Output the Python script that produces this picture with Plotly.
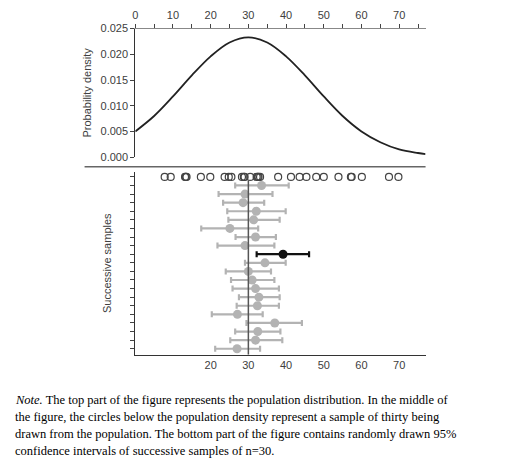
import plotly.graph_objects as go

# population density curve
dens_x = [0, 5, 10, 15, 20, 25, 30, 35, 40, 45, 50, 55, 60, 65, 70, 75, 77]
dens_y = [0.0050, 0.0080, 0.0118, 0.0159, 0.0196, 0.0223, 0.0233, 0.0223, 0.0196,
          0.0159, 0.0118, 0.0080, 0.0050, 0.0029, 0.0015, 0.0008, 0.0006]

# the sample of thirty (open circles)
sample = [7.8, 9.4, 13.2, 13.4, 13.6, 17.4, 19.9, 23.7, 24.8, 25.5, 28.3, 28.8, 29.0,
          30.5, 32.2, 32.5, 32.7, 33.1, 37.9, 41.3, 43.6, 45.4, 48.0, 50.0, 53.9,
          57.2, 57.4, 60.1, 67.3, 69.8]

# successive samples: mean and 95% CI
means = [33.5, 29.1, 28.6, 32.1, 31.4, 25.1, 31.9, 29.1, 39.2, 34.4,
         30.0, 31.0, 31.9, 32.8, 32.4, 27.1, 37.0, 32.5, 31.9, 27.0]
lows = [26.5, 22.1, 23.3, 24.4, 24.7, 17.5, 26.6, 21.8, 32.2, 29.1,
        24.0, 25.4, 25.8, 27.5, 26.9, 20.3, 29.5, 26.5, 25.2, 21.2]
highs = [40.7, 36.4, 34.2, 39.9, 38.3, 32.6, 37.3, 36.9, 46.1, 39.9,
         36.0, 36.9, 38.1, 38.3, 38.1, 33.8, 44.2, 38.5, 39.0, 33.1]
miss_index = 8  # the interval that misses 30

rows = list(range(1, len(means) + 1))
grey = '#b3b3b3'
ink = '#333333'
font = dict(family='Liberation Sans, Arial', size=11, color='#404040')

# page has an 8px body margin, so work in a 512x454 box
W, H, OFF = 512, 454, 8
def px(x):
    return (x - OFF) / W
def py(y):
    return 1 - (y - OFF) / H

fig = go.Figure()

fig.add_trace(go.Scatter(x=dens_x, y=dens_y, mode='lines', line=dict(color='#222222', width=1.8, shape='spline'),
                         xaxis='x', yaxis='y', showlegend=False))

fig.add_trace(go.Scatter(x=sample, y=[0] * len(sample), mode='markers',
                         marker=dict(symbol='circle-open', size=7, color='#444444', line=dict(width=1.2)),
                         xaxis='x2', yaxis='y2', showlegend=False))

for i, r in enumerate(rows):
    c = '#111111' if i == miss_index else grey
    fig.add_trace(go.Scatter(x=[means[i]], y=[r], mode='markers',
                             marker=dict(size=9, color=c),
                             error_x=dict(type='data', symmetric=False,
                                          array=[highs[i] - means[i]], arrayminus=[means[i] - lows[i]],
                                          color=c, thickness=2.2, width=3),
                             xaxis='x2', yaxis='y2', showlegend=False))

fig.update_layout(
    width=W, height=H, margin=dict(l=0, r=0, t=0, b=0),
    plot_bgcolor='white', paper_bgcolor='white', font=font,
    xaxis=dict(domain=[px(133), px(425)], range=[0, 77], side='top', anchor='y',
               tickvals=[0, 10, 20, 30, 40, 50, 60, 70], ticks='outside', ticklen=4,
               minor=dict(tickvals=[5, 15, 25, 35, 45, 55, 65, 75], ticks='outside', ticklen=4),
               showline=True, linecolor='#888888', mirror=False, showgrid=False, zeroline=False),
    yaxis=dict(domain=[py(155), py(23)], range=[0, 0.025], anchor='x',
               tickvals=[0, 0.005, 0.01, 0.015, 0.02, 0.025], tickformat='.3f',
               ticks='outside', ticklen=4, showline=True, linecolor=ink, showgrid=False, zeroline=False,
               title=dict(text='Probability density', standoff=6, font=dict(size=11))),
    xaxis2=dict(domain=[px(133), px(425)], range=[0, 77], anchor='y2',
                tickvals=[20, 30, 40, 50, 60, 70], ticks='', showline=True, linecolor=ink,
                showgrid=False, zeroline=False),
    yaxis2=dict(domain=[py(358), py(170)], range=[20.7, -0.6], anchor='x2',
                tickvals=list(range(0, 21)), ticktext=[''] * 21, ticks='outside', ticklen=4,
                showline=True, linecolor=ink, showgrid=False, zeroline=False,
                title=dict(text='Successive samples', standoff=14, font=dict(size=11))),
)

# reference line at the population mean
fig.add_shape(type='line', xref='x2', yref='y2', x0=30, x1=30, y0=0.4, y1=20.7,
              line=dict(color='#555555', width=1.5))
# separator between the panels
fig.add_shape(type='line', xref='paper', yref='paper', x0=px(82), x1=px(425), y0=py(165), y1=py(165),
              line=dict(color='#666666', width=1.5))

note = [
    '<i>Note.</i> The top part of the figure represents the population distribution. In the middle of',
    'the figure, the circles below the population density represent a sample of thirty being',
    'drawn from the population. The bottom part of the figure contains randomly drawn 95%',
    'confidence intervals of successive samples of n=30.',
]
for k, line in enumerate(note):
    fig.add_annotation(text=line, xref='paper', yref='paper', x=px(10), y=py(404 + 17.5 * k),
                       xanchor='left', yanchor='middle', showarrow=False,
                       font=dict(family='Liberation Serif, Times New Roman', size=12.5, color='black'))

fig.write_html("out.html")
